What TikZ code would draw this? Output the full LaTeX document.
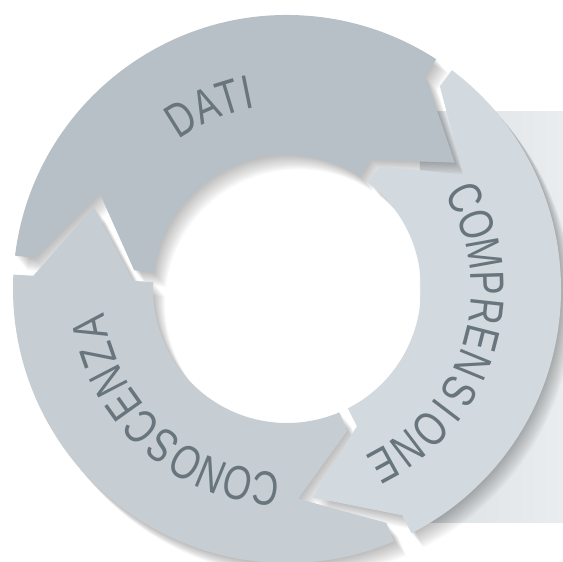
\documentclass[tikz,border=0pt]{standalone}
\usepackage{fontspec}
\usepackage{tikz}
\usetikzlibrary{positioning}
\usepackage{xcolor}
\newfontfamily\ringfont[FakeStretch=0.76]{Liberation Sans}
\definecolor{datigrey}{HTML}{B7C0C7}
\definecolor{compgrey}{HTML}{D3DADF}
\definecolor{conogrey}{HTML}{C6CDD3}
\definecolor{lettergrey}{HTML}{68757D}
\definecolor{panelleft}{HTML}{DCE1E5}
\definecolor{panelright}{HTML}{EAEDEF}

\begin{document}
\begin{tikzpicture}[x=1pt, y=1pt, letter/.style={anchor=base, inner sep=0pt, text=lettergrey, font=\ringfont\fontsize{48}{48}\selectfont}]
\useasboundingbox (-287,-273) rectangle (276,289);
% panel behind the ring
\shade[left color=panelleft, right color=panelright] (133,-234) rectangle (276,177);
% soft shadow of the ring
\foreach \s in {1,...,12}
  \foreach \b/\e in {173/57, 53/-63, -67/-183}
    \fill[black, opacity=0.022, shift={(\s,-1.2*\s)}] (\b:274) arc[start angle=\b, end angle=\e, radius=274]
      -- (\e:254) -- ({\e-20}:210) -- (\e:154) -- (\e:134) arc[start angle=\e, end angle=\b, radius=134]
      -- (\b:154) -- ({\b-20}:210) -- (\b:254) -- cycle;
% the three arrows
\foreach \b/\e/\c in {173/57/datigrey, 53/-63/compgrey, -67/-183/conogrey}
  \fill[\c] (\b:274) arc[start angle=\b, end angle=\e, radius=274]
    -- (\e:254) -- ({\e-20}:210) -- (\e:154) -- (\e:134) arc[start angle=\e, end angle=\b, radius=134]
    -- (\b:154) -- ({\b-20}:210) -- (\b:254) -- cycle;
% labels along the ring
\foreach \l/\ang [count=\i] in {D/122, A/114, T/107, I/101.5}
  \node[letter, rotate=\ang-90] (dati\i) at (\ang:184) {\l};
\foreach \l/\ang [count=\i] in {C/27.2, O/18.8, M/10.2, P/1.8, R/-6.3, E/-14.3, N/-22.3, S/-30.8, I/-37.3, O/-44.3, N/-52.8, E/-61.3}
  \node[letter, rotate=\ang-90] (comp\i) at (\ang:184) {\l};
\foreach \l [count=\i, evaluate=\i as \ang using -96-8.09*(\i-1)] in {C,O,N,O,S,C,E,N,Z,A}
  \node[letter, rotate=\ang-90] (cono\i) at (\ang:184) {\l};
\end{tikzpicture}
\end{document}
